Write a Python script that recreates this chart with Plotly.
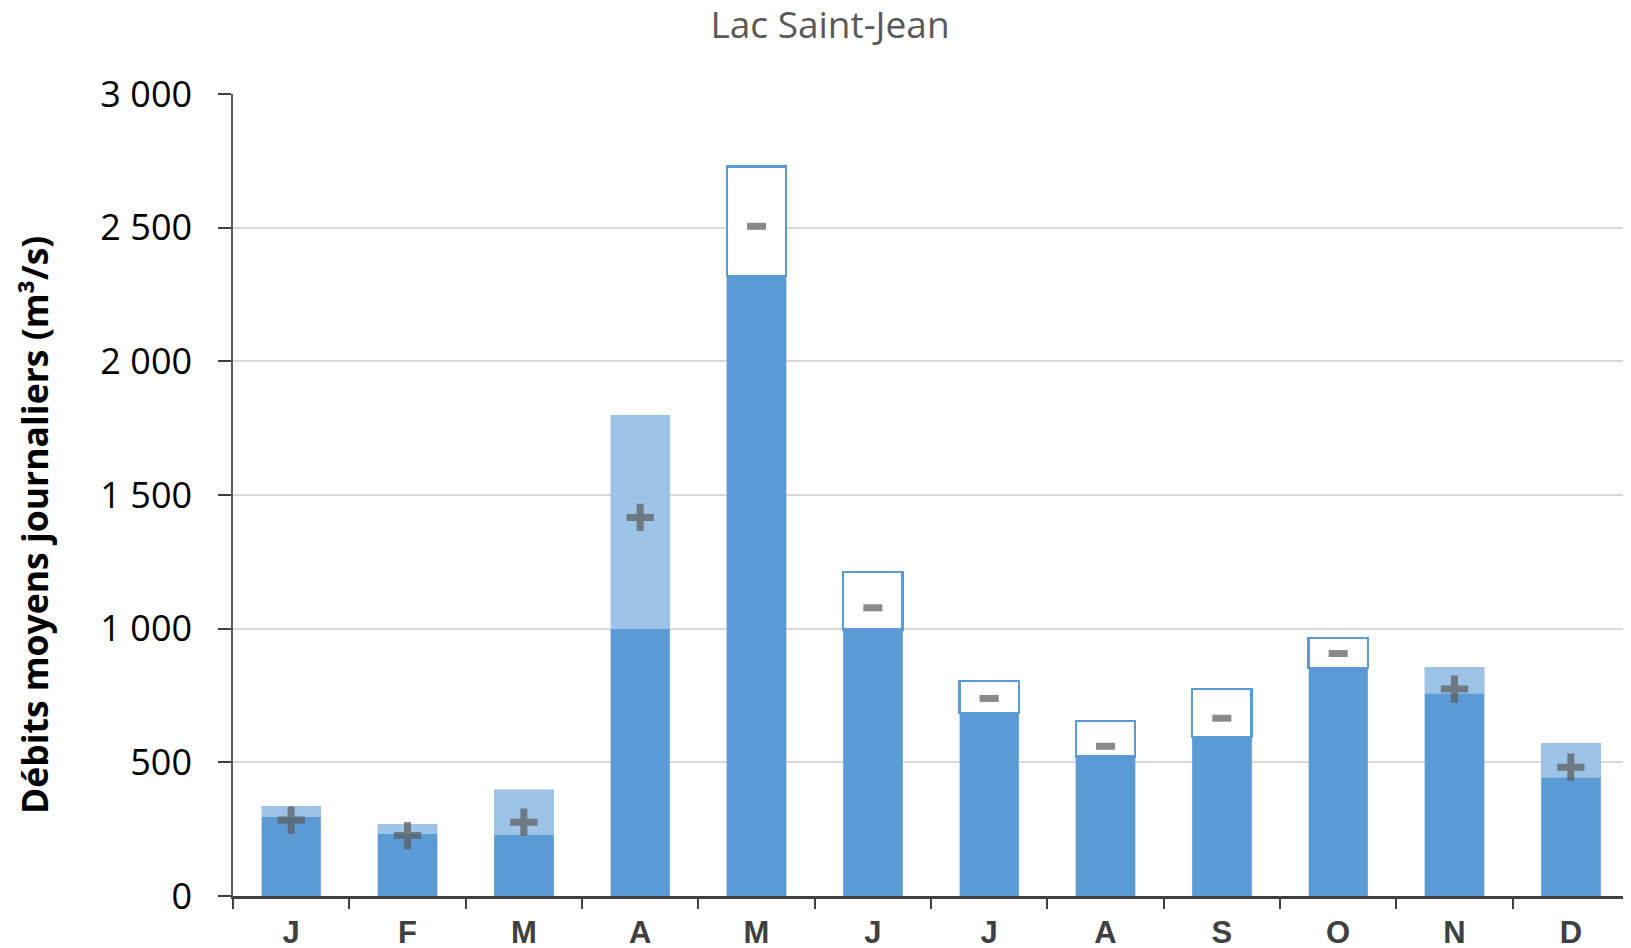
import plotly.graph_objects as go

# ---- données ----
mois = ["J", "F", "M", "A", "M", "J", "J", "A", "S", "O", "N", "D"]
debit_base = [296, 233, 230, 1000, 2319, 996, 685, 521, 595, 852, 759, 444]      # partie foncée
debit_sommet = [335, 268, 397, 1798, 2728, 1212, 805, 654, 774, 965, 856, 572]  # haut de la barre
signe = ["+", "+", "+", "+", "-", "-", "-", "-", "-", "-", "+", "+"]
valeur_marqueur = [284, 226, 276, 1416, 2505, 1078, 739, 560, 665, 907, 774, 482]
y_ticks = [0, 500, 1000, 1500, 2000, 2500, 3000]

DARK = "#5B9BD5"
LIGHT = "#9DC3E6"
MARK = "#5A5A5A"

x = list(range(len(mois)))
ecart = [s - b for s, b in zip(debit_sommet, debit_base)]
fill_top = [LIGHT if s == "+" else "#FFFFFF" for s in signe]
line_top = [LIGHT if s == "+" else DARK for s in signe]
lw_top = [0.5 if s == "+" else 2.5 for s in signe]
sym = ["cross-thin" if s == "+" else "line-ew" for s in signe]
msize = [19.5 if s == "+" else 13.6 for s in signe]

fig = go.Figure()
fig.add_trace(go.Bar(x=x, y=debit_base, marker=dict(color=DARK, line=dict(color="#8DB8E2", width=0.5)),
                     showlegend=False, hoverinfo="y"))
fig.add_trace(go.Bar(x=x, y=ecart, marker=dict(color=fill_top, line=dict(color=line_top, width=lw_top)),
                     showlegend=False, hoverinfo="y"))
fig.add_trace(go.Scatter(x=x, y=valeur_marqueur, mode="markers",
                         marker=dict(symbol=sym, size=msize, color=MARK,
                                     line=dict(color=MARK, width=7)),
                         showlegend=False, hoverinfo="y"))

n = len(mois)
bounds = [i - 0.5 for i in range(n + 1)]

fig.update_layout(
    width=1631, height=948,
    margin=dict(l=225, r=10, t=86, b=60, autoexpand=False),
    paper_bgcolor="white", plot_bgcolor="white",
    barmode="stack", bargap=0.49,
    separators=", ",
    title=dict(text="Lac Saint-Jean", x=0.504, xref="container", xanchor="center",
               y=0.982, yref="container", yanchor="middle",
               font=dict(family="Open Sans", size=37, color="#595959")),
    xaxis=dict(range=[-0.5, n - 0.5], tickmode="array", tickvals=x, ticktext=mois,
               automargin=False,
               ticks="outside", ticklen=6, tickcolor="rgba(0,0,0,0)",
               ticklabelstandoff=1,
               tickfont=dict(family="Liberation Sans", size=31, color="#404040", weight="bold"),
               showline=True, linecolor="#404040", linewidth=3, showgrid=False, zeroline=False,
               minor=dict(tickmode="array", tickvals=bounds, ticks="outside", ticklen=10,
                          tickwidth=2, tickcolor="#404040", showgrid=False)),
    xaxis2=dict(overlaying="x", anchor="y", side="bottom", matches="x", automargin=False,
                tickmode="array", tickvals=bounds, ticks="inside", ticklen=9, tickwidth=2,
                tickcolor="#404040", showticklabels=False, showgrid=False, showline=False,
                zeroline=False),
    yaxis=dict(range=[0, 3000], tickmode="array", tickvals=y_ticks, tickformat=",d",
               automargin=False,
               ticks="outside", ticklen=13, tickwidth=1.5, tickcolor="#404040",
               ticklabelstandoff=19,
               tickfont=dict(family="Open Sans", size=36, color="#000000"),
               showline=True, linecolor="#595959", linewidth=1.5,
               showgrid=True, gridcolor="#D9D9D9", gridwidth=2, zeroline=False),
    yaxis2=dict(overlaying="y", anchor="x", side="left", matches="y", automargin=False,
                tickmode="array", tickvals=y_ticks, ticks="inside", ticklen=12, tickwidth=1.5,
                tickcolor="#404040", showticklabels=False, showgrid=False, showline=False,
                zeroline=False),
    annotations=[dict(text="Débits moyens journaliers (m³/s)", textangle=-90,
                      xref="paper", yref="paper", x=-0.1425, y=0.4626,
                      xanchor="center", yanchor="middle", showarrow=False,
                      font=dict(family="Open Sans", size=35.5, color="#000000", weight="bold"))],
    shapes=[dict(type="line", xref="paper", yref="paper", x0=1, x1=1, y0=0, y1=1,
                 line=dict(color="#BFBFBF", width=2))],
)

fig.write_html("out.html")
